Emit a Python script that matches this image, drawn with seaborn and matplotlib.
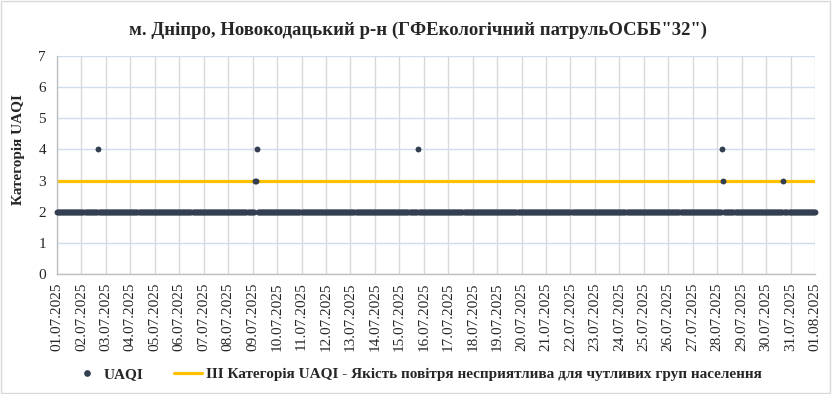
import pandas as pd
import matplotlib
matplotlib.use("Agg")
import matplotlib.pyplot as plt
import matplotlib.dates as mdates
from matplotlib.lines import Line2D
from matplotlib.patches import Rectangle
import seaborn as sns

# Data
TITLE = 'м. Дніпро, Новокодацький р-н (ГФЕкологічний патрульОСББ"32")'
Y_LABEL = "Категорія UAQI"
SERIES_LABEL = "UAQI"
THRESHOLD_LABEL = "III Категорія UAQI - Якість повітря несприятлива для чутливих груп населення"

period_start = "2025-07-01 00:00"
period_end = "2025-08-01 00:00"
base_category = 2          # hourly UAQI category for almost all hours
threshold_value = 3

# hours where the category was not 2
exception_times = [
    "2025-07-02 16:00",
    "2025-07-09 02:00",
    "2025-07-09 03:00",
    "2025-07-09 04:00",
    "2025-07-15 18:00",
    "2025-07-28 05:00",
    "2025-07-28 06:00",
    "2025-07-30 17:00",
]
exception_values = [4, 3, 3, 4, 4, 4, 3, 3]

y_ticks = [0, 1, 2, 3, 4, 5, 6, 7]

POINT_COLOR = "#333f50"
THRESHOLD_COLOR = "#ffc000"


def build_frame():
    times = pd.date_range(period_start, period_end, freq="h")
    df = pd.DataFrame({"time": times, "uaqi": base_category})
    df = df.set_index("time")
    df.loc[pd.to_datetime(exception_times), "uaqi"] = exception_values
    return df.reset_index()


def main():
    sns.set_theme(style="white")
    plt.rcParams["font.family"] = ["Liberation Serif", "DejaVu Serif"]

    df = build_frame()
    thr = pd.DataFrame({
        "time": pd.to_datetime([period_start, period_end]),
        "value": [threshold_value, threshold_value],
    })

    fig = plt.figure(figsize=(8.32, 3.94), dpi=100)
    ax = fig.add_axes([57 / 832, 120 / 394, 758 / 832, 218 / 394])

    sns.lineplot(data=thr, x="time", y="value", color=THRESHOLD_COLOR,
                 linewidth=2.3, ax=ax, zorder=2)
    sns.scatterplot(data=df, x="time", y="uaqi", color=POINT_COLOR, s=18,
                    linewidth=0, ax=ax, zorder=3, clip_on=False)
    ax.collections[-1].set_snap(False)

    ax.set_xlim(pd.Timestamp(period_start), pd.Timestamp(period_end))
    ax.set_ylim(0, 7)
    ax.set_yticks(y_ticks)
    ax.tick_params(axis="y", labelsize=11, pad=8, length=0)
    ax.tick_params(axis="x", labelsize=11, pad=6, length=0, rotation=90)

    ax.xaxis.set_major_locator(mdates.DayLocator())
    ax.xaxis.set_major_formatter(mdates.DateFormatter("%d.%m.%Y"))

    # gridlines like the spreadsheet chart
    ax.grid(axis="x", color="#d9d9d9", linewidth=1)
    ax.grid(axis="y", color="#d0dcef", linewidth=1)
    ax.set_axisbelow(True)
    for side in ["top", "right"]:
        ax.spines[side].set_visible(False)
    for side in ["left", "bottom"]:
        ax.spines[side].set_color("#bfbfbf")
        ax.spines[side].set_linewidth(1)

    ax.set_xlabel("")
    ax.set_ylabel("")
    fig.text(18 / 832, 1 - 150 / 394, Y_LABEL, rotation=90, ha="center",
             va="center", fontsize=11, fontweight="bold")
    fig.text(418 / 832, 1 - 30 / 394, TITLE, ha="center", va="center",
             fontsize=13.5, fontweight="bold")

    handles = [
        Line2D([], [], marker="o", linestyle="none", color=POINT_COLOR,
               markersize=3.8),
        Line2D([], [], color=THRESHOLD_COLOR, linewidth=2.3),
    ]
    fig.legend(handles, [SERIES_LABEL, THRESHOLD_LABEL], loc="center",
               bbox_to_anchor=(417 / 832, 1 - 374 / 394), ncol=2,
               frameon=False, handlelength=1.85, handletextpad=0.2,
               columnspacing=2.0, prop={"weight": "bold", "size": 11})

    # chart border
    fig.patches.append(Rectangle((0.001, 0.002), 0.997, 0.996,
                                 transform=fig.transFigure, fill=False,
                                 edgecolor="#d9d9d9", linewidth=1))

    fig.savefig("out.png", dpi=100)


if __name__ == "__main__":
    main()
